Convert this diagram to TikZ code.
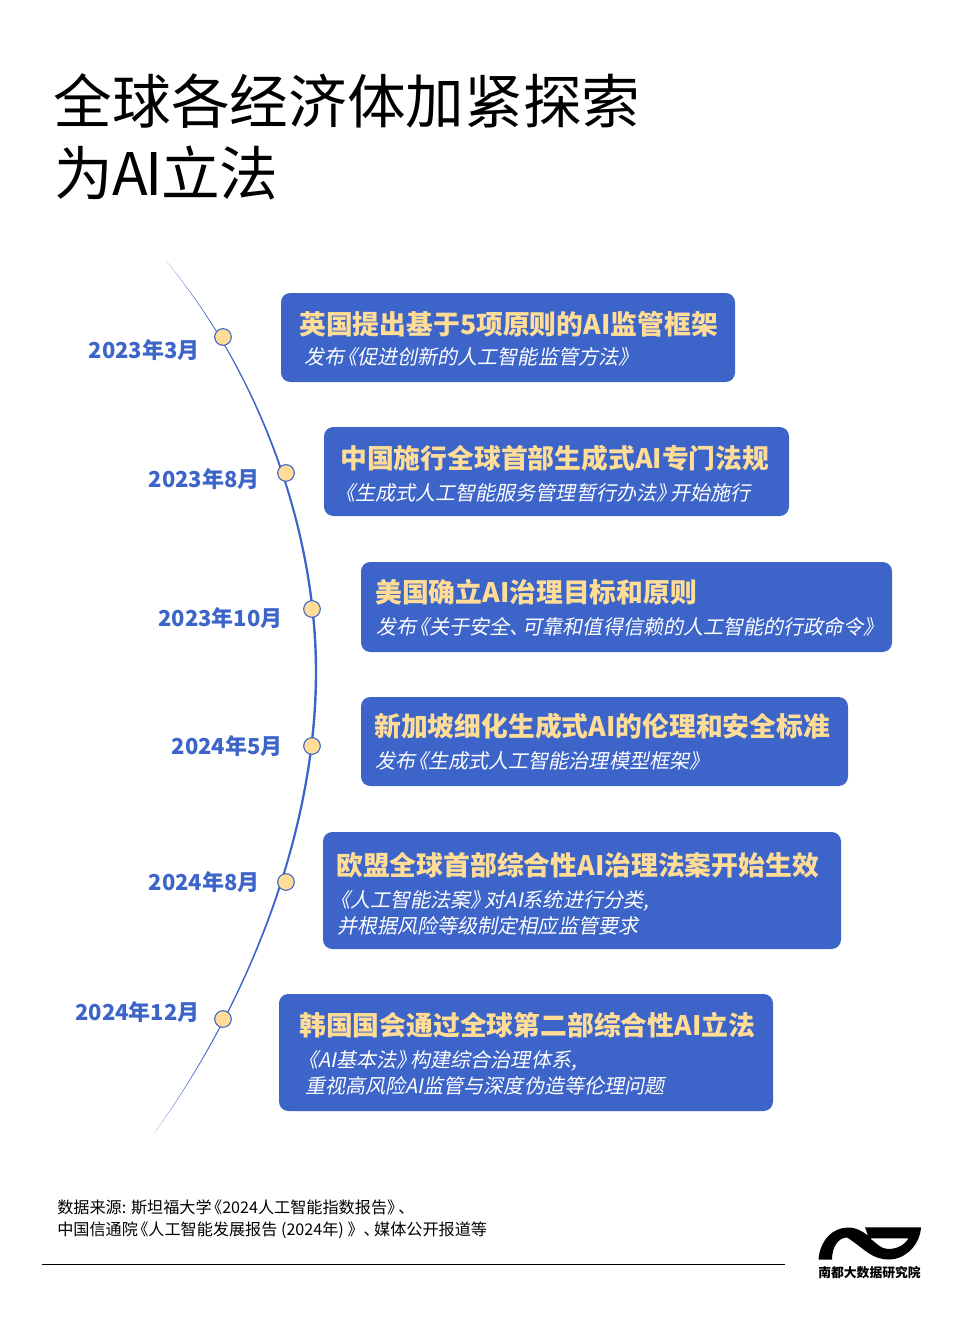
\documentclass[tikz,border=0pt]{standalone}
\usepackage{fontspec}
\setmainfont{Noto Sans CJK SC}
\newfontfamily\subfont[FakeSlant=0.2]{Noto Sans CJK SC}
\usepackage{tikz}
\definecolor{boxblue}{HTML}{3D64C8}
\definecolor{headyellow}{HTML}{FFDD96}
\newcommand{\lbk}{\hspace{-0.35em}《}
\newcommand{\rbk}{》\hspace{-0.3em}}
\newcommand{\cmk}{、\hspace{-0.35em}}
\tikzstyle{card} = [rectangle, rounded corners=7pt, fill=boxblue, inner sep=0pt]
\tikzstyle{dot} = [circle, minimum size=12.5pt, inner sep=0pt, draw=boxblue, line width=0.8pt, fill=headyellow]
\tikzstyle{date} = [anchor=east, inner sep=0pt, text=boxblue, font=\fontsize{16.5pt}{20pt}\selectfont\bfseries]
\tikzstyle{head} = [anchor=west, inner sep=0pt, text=headyellow, font=\fontsize{20.1pt}{24pt}\selectfont\bfseries]
\tikzstyle{sub} = [anchor=west, inner sep=0pt, text=white, align=left, font=\fontsize{15.05pt}{19.2pt}\subfont]
\tikzstyle{source} = [anchor=west, inner sep=0pt, text=black, font=\fontsize{12.1pt}{14pt}\selectfont]
\begin{document}
\begin{tikzpicture}[x=0.75pt,y=-0.75pt]
\useasboundingbox (0,0) rectangle (960,1324);

\node (title1) [anchor=west, inner sep=0pt, font=\fontsize{44pt}{50pt}\selectfont] at (53.5,101) {全球各经济体加紧探索};
\node (title2) [anchor=west, inner sep=0pt, font=\fontsize{44pt}{50pt}\selectfont] at (54.5,173) {为\hspace{-1pt}A\hspace{-1.5pt}I\hspace{-1.5pt}立法};

% timeline, tapered at both ends
\fill[boxblue] (167,262) .. controls (261,375) and (317.2,530) .. (317.2,672) .. controls (317.2,830) and (251,1000) .. (155,1132)
  .. controls (249,1000) and (314.8,830) .. (314.8,672) .. controls (314.8,530) and (259,375) .. (167,262) -- cycle;

\node (d1) [dot] at (223,337) {};
\node (d2) [dot] at (286,473) {};
\node (d3) [dot] at (312,609) {};
\node (d4) [dot] at (312,746) {};
\node (d5) [dot] at (286,882) {};
\node (d6) [dot] at (223,1019) {};

\node (t1) [date] at (200,350) {2023年3月};
\node (t2) [date] at (260,479) {2023年8月};
\node (t3) [date] at (283,618) {2023年10月};
\node (t4) [date] at (283,746) {2024年5月};
\node (t5) [date] at (260,882) {2024年8月};
\node (t6) [date] at (200,1012) {2024年12月};

\node (c1) [card, minimum width=340.5pt, minimum height=66.75pt] at (508,337.5) {};
\node (c2) [card, minimum width=348.75pt, minimum height=66.75pt] at (556.5,471.5) {};
\node (c3) [card, minimum width=398.25pt, minimum height=67.5pt] at (626.5,607) {};
\node (c4) [card, minimum width=365.25pt, minimum height=66.75pt] at (604.5,741.5) {};
\node (c5) [card, minimum width=388.5pt, minimum height=87.75pt] at (582,890.5) {};
\node (c6) [card, minimum width=370.5pt, minimum height=87.75pt] at (526,1052.5) {};

\node (h1) [head] at (299,324) {英国提出基于5项原则的AI监管框架};
\node (s1) [sub] at (304,357) {发布\lbk 促进创新的人工智能监管方法\rbk};
\node (h2) [head] at (340,458) {中国施行全球首部生成式AI专门法规};
\node (s2) [sub] at (342,493) {\lbk 生成式人工智能服务管理暂行办法\rbk 开始施行};
\node (h3) [head] at (375,592) {美国确立AI治理目标和原则};
\node (s3) [sub] at (376,627) {发布\lbk 关于安全\cmk 可靠和值得信赖的人工智能的行政命令\rbk};
\node (h4) [head] at (374,726) {新加坡细化生成式AI的伦理和安全标准};
\node (s4) [sub] at (375,761) {发布\lbk 生成式人工智能治理模型框架\rbk};
\node (h5) [head] at (336,865) {欧盟全球首部综合性AI治理法案开始生效};
\node (s5) [sub] at (337,913) {\lbk 人工智能法案\rbk 对AI系统进行分类,\\并根据风险等级制定相应监管要求};
\node (h6) [head] at (299,1025) {韩国国会通过全球第二部综合性AI立法};
\node (s6) [sub] at (305,1073) {\lbk AI基本法\rbk 构建综合治理体系,\\重视高风险AI监管与深度伪造等伦理问题};

\node (src1) [source] at (57,1207) {数据来源: 斯坦福大学\lbk 2024人工智能指数报告\rbk 、};
\node (src2) [source] at (57,1230.5) {中国信通院\lbk 人工智能发展报告 (2024年) 》\cmk 媒体公开报道等};
\coordinate (ruleL) at (42,1264.5);
\coordinate (ruleR) at (785,1264.5);
\draw[line width=1pt] (ruleL) -- (ruleR);

% logo
\fill[black, even odd rule] (818.5,1259.5) .. controls (820,1240) and (833,1227.5) .. (848,1227.5) .. controls (856,1227.5) and (862,1231) .. (868,1235.5) -- (865,1227.3) -- (921,1227.3) .. controls (920,1245) and (905,1259.5) .. (889,1259.5) .. controls (873,1259.5) and (865,1250) .. (855,1243) .. controls (850,1239.5) and (848,1237.5) .. (846.5,1237.5) .. controls (838,1238) and (832,1247) .. (832,1259.5) -- cycle
  (870,1238.3) -- (908.5,1238.3) .. controls (904,1246) and (896,1249) .. (888,1249) .. controls (881,1249) and (876,1243) .. (870,1238.3) -- cycle;
\node (logotext) [anchor=center, inner sep=0pt, font=\fontsize{9.6pt}{11pt}\selectfont\bfseries] at (869.5,1273) {南都大数据研究院};

\end{tikzpicture}
\end{document}
